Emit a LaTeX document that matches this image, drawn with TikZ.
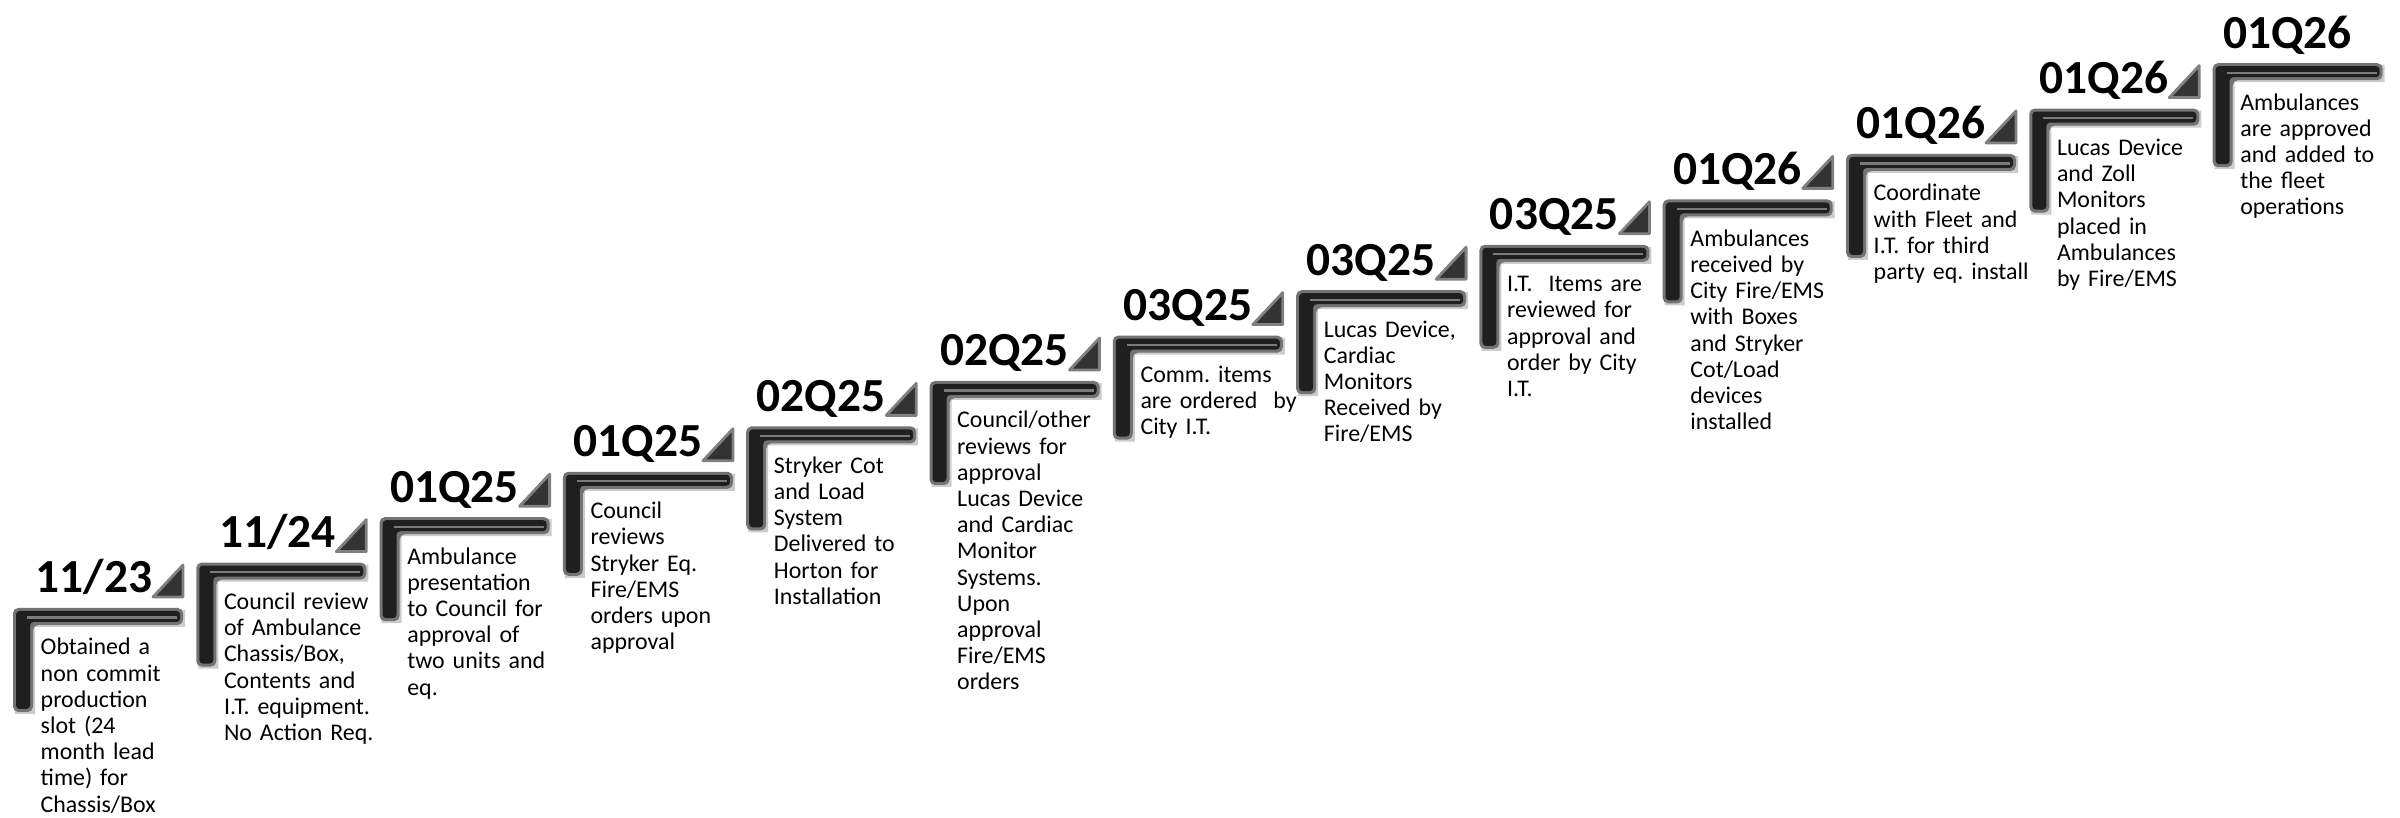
\documentclass[tikz,border=0pt]{standalone}
\usepackage{fontspec}
\setmainfont{Carlito}
\frenchspacing

\tikzset{
  barshadow/.style={fill=black, opacity=0.2},
  barrim/.style={fill=black!55, rounded corners=1.5pt},
  barcore/.style={fill=black!88, rounded corners=1pt},
  barshine/.style={draw=black!52, line width=0.6pt},
  steptip/.style={fill=black!80, draw=black!50, line width=0.8pt, line join=round},
  datelabel/.style={anchor=base east, inner sep=0pt, font=\fontsize{13.5}{16}\selectfont\bfseries},
  stepnote/.style={anchor=base west, inner sep=0pt, text width=3cm, align=left, font=\fontsize{6.8}{7.45}\selectfont}
}

\begin{document}
\begin{tikzpicture}
\useasboundingbox (0,0) rectangle (24,8.18);

% one stair step per milestone
\foreach \i/\date/\note in {
  0/{11/23}/{Obtained a\\non commit\\production\\slot (24\\month lead\\time) for\\Chassis/Box},
  1/{11/24}/{Council review\\of Ambulance\\Chassis/Box,\\Contents and\\I.T. equipment.\\No Action Req.},
  2/{01Q25}/{Ambulance\\presentation\\to Council for\\approval of\\two units and\\eq.},
  3/{01Q25}/{Council\\reviews\\Stryker Eq.\\Fire/EMS\\orders upon\\approval},
  4/{02Q25}/{Stryker Cot\\and Load\\System\\Delivered to\\Horton for\\Installation},
  5/{02Q25}/{Council/other\\reviews for\\approval\\Lucas Device\\and Cardiac\\Monitor\\Systems.\\Upon\\approval\\Fire/EMS\\orders},
  6/{03Q25}/{Comm. items\\are ordered~ by\\City I.T.},
  7/{03Q25}/{Lucas Device,\\Cardiac\\Monitors\\Received by\\Fire/EMS},
  8/{03Q25}/{I.T.~ Items are\\reviewed for\\approval and\\order by City\\I.T.},
  9/{01Q26}/{Ambulances\\received by\\City Fire/EMS\\with Boxes\\and Stryker\\Cot/Load\\devices\\installed},
  10/{01Q26}/{Coordinate\\with Fleet and\\I.T. for third\\party eq. install},
  11/{01Q26}/{Lucas Device\\and Zoll\\Monitors\\placed in\\Ambulances\\by Fire/EMS},
  12/{01Q26}/{Ambulances\\are approved\\and added to\\the fleet\\operations}
}{
  \begin{scope}[shift={({1.833*\i},{0.454*\i})}]
    % bracket
    \fill[barshadow] (0.15,2.08) -- (1.85,2.08) -- (1.85,1.91) -- (0.35,1.91) -- (0.35,1.04) -- (0.15,1.04) -- cycle;
    \fill[barrim] (0.13,2.10) -- (1.83,2.10) -- (1.83,1.93) -- (0.33,1.93) -- (0.33,1.06) -- (0.13,1.06) -- cycle;
    \fill[barcore] (0.16,2.07) -- (1.80,2.07) -- (1.80,1.96) -- (0.30,1.96) -- (0.30,1.09) -- (0.16,1.09) -- cycle;
    \draw[barshine] (0.27,2.005) -- (1.77,2.005);
    % marker
    \ifnum\i<12
      \filldraw[steptip] (1.53,2.21) -- (1.83,2.21) -- (1.83,2.53) -- cycle;
    \fi
    \node[datelabel] (date\i) at (1.53,2.25) {\date};
    \node[stepnote] (note\i) at (0.40,1.63) {\note};
  \end{scope}
}
\end{tikzpicture}
\end{document}
